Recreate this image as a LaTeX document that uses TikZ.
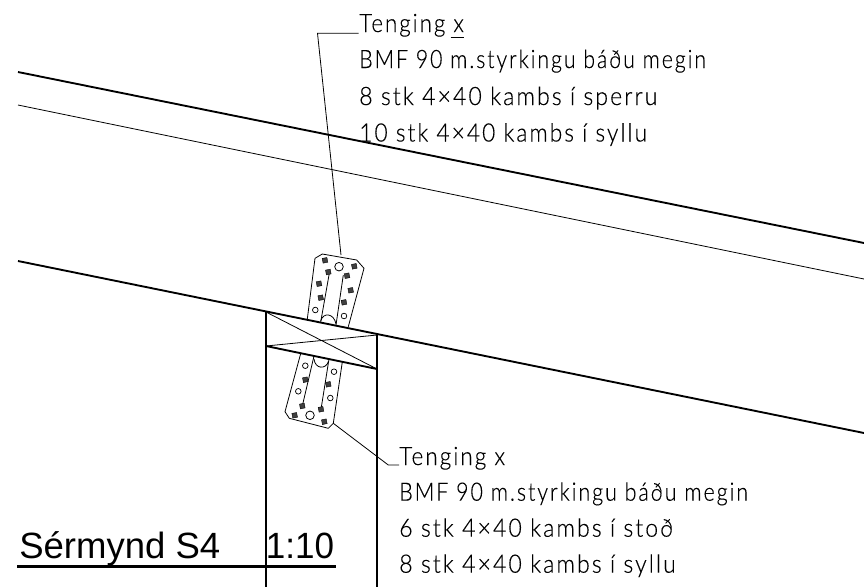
\documentclass[tikz,border=0pt]{standalone}
\usepackage{fontspec}
\usepackage{graphicx}
\setmainfont{Liberation Sans}
\newfontfamily\isofont[LetterSpace=9,FakeBold=0.25]{Lato Light}
\begin{document}
\begin{tikzpicture}[x=0.75pt,y=-0.75pt,
  thickline/.style={line width=1.4pt,black},
  postline/.style={line width=1.1pt,black},
  thinline/.style={line width=0.6pt,black},
  plate/.style={line width=0.6pt,black,line join=round},
  txt/.style={inner sep=0pt,anchor=base west,font=\isofont\fontsize{19}{19}\selectfont},
  title/.style={inner sep=0pt,anchor=base west,font=\fontsize{27.4}{27.4}\selectfont},
  screw/.style={fill=black!75,draw=black,line width=0.3pt,minimum size=3.6pt,inner sep=0pt,rotate=11},
  hole/.style={circle,draw=black,line width=0.55pt,minimum size=4.2pt,inner sep=0pt},
  bighole/.style={circle,draw=black,line width=0.6pt,minimum size=6.4pt,inner sep=0pt}]
\useasboundingbox (0,0) rectangle (864,587);
% beams
\coordinate (a1) at (18,72); \coordinate (a2) at (864,243);
\coordinate (b1) at (18,105); \coordinate (b2) at (864,279);
\coordinate (c1) at (18,261); \coordinate (c2) at (864,433);
\draw[thickline] (a1) -- (a2);
\draw[thinline] (b1) -- (b2);
\draw[thickline] (c1) -- (c2);
% post
\draw[postline] (266,312) -- (266,587);
\draw[postline] (377,335) -- (377,587);
\draw[thickline] (266,346) -- (377,369);
\draw[thinline] (266,312) -- (377,369);
\draw[thinline] (266,346) -- (377,335);
% upper plate
\draw[plate] (307.3,319) -- (315,258.3) -- (322.3,254) -- (356.7,260) -- (364,268.3) -- (348.3,326.7);
\draw[plate] (329.3,273.3) -- (320.7,322);
\draw[plate] (343.3,275) -- (336,325);
\draw[plate] (320.7,321) .. controls (323,312) and (334,313) .. (336,324);
\foreach \n/\p in {u1/{325,260.3},u2/{354.3,266.3},u3/{328.3,272},u4/{347,275.7},u5/{319,283.7},u6/{350.7,290.3},u7/{320.7,297.7},u8/{344,302.3}}
  \node[screw] (\n) at (\p) {};
\node[bighole] (ub) at (339,266.7) {};
\node[hole] (uh1) at (315.3,310) {};
\node[hole] (uh2) at (344,316) {};
% lower plate
\draw[plate] (300.7,353.5) -- (285,411.7) -- (289.3,418.3) -- (328.3,428.3) -- (333.3,423.3) -- (342.3,362);
\draw[plate] (314,356) -- (302.3,406);
\draw[plate] (329,359) -- (321,409.3);
\draw[plate] (314,359) .. controls (315,369) and (326,370) .. (328.6,361);
\foreach \n/\p in {l1/{294.7,415.3},l2/{324.3,421.7},l3/{302.3,406},l4/{321,409.3},l5/{305.3,379.7},l6/{328.3,384.3}}
  \node[screw] (\n) at (\p) {};
\node[bighole] (lb) at (310,415.3) {};
\node[hole] (lh1) at (305.3,365.7) {};
\node[hole] (lh2) at (334,371.7) {};
\node[hole] (lh3) at (298.3,391.3) {};
\node[hole] (lh4) at (330.3,398) {};
% upper text
\node[txt] (t1) at (359,32) {\scalebox{.88}[1]{Tenging x}};
\node[txt] (t2) at (359,68) {\scalebox{.843}[1]{BMF 90 m.styrkingu báðu megin}};
\node[txt] (t3) at (359,105) {\scalebox{.91}[1]{8 stk 4×40 kambs í sperru}};
\node[txt] (t4) at (359,141.5) {\scalebox{.897}[1]{10 stk 4×40 kambs í syllu}};
\coordinate (ux1) at (450.7,37); \coordinate (ux2) at (464.3,37);
\draw[thinline] (ux1) -- (ux2);
% lower text
\node[txt] (s1) at (399,465) {\scalebox{.89}[1]{Tenging x}};
\node[txt] (s2) at (399,500.7) {\scalebox{.848}[1]{BMF 90 m.styrkingu báðu megin}};
\node[txt] (s3) at (399,536.7) {\scalebox{.91}[1]{6 stk 4×40 kambs í stoð}};
\node[txt] (s4) at (399,572.7) {\scalebox{.91}[1]{8 stk 4×40 kambs í syllu}};
% leaders
\coordinate (lu0) at (341,255); \coordinate (lu1) at (317.5,33.3); \coordinate (lu2) at (358.5,33.3);
\draw[thinline] (lu0) -- (lu1) -- (lu2);
\coordinate (ll0) at (333.3,423.3); \coordinate (ll1) at (388.3,465); \coordinate (ll2) at (399,465);
\draw[thinline] (ll0) -- (ll1) -- (ll2);
% title
\node[title] (ti1) at (19,558) {Sérmynd S4};
\node[title] (ti2) at (265.5,558) {\scalebox{.96}[1]{1:10}};
\coordinate (tu1) at (17,566.7); \coordinate (tu2) at (336,566.7);
\draw[line width=2.1pt] (tu1) -- (tu2);
\end{tikzpicture}
\end{document}
